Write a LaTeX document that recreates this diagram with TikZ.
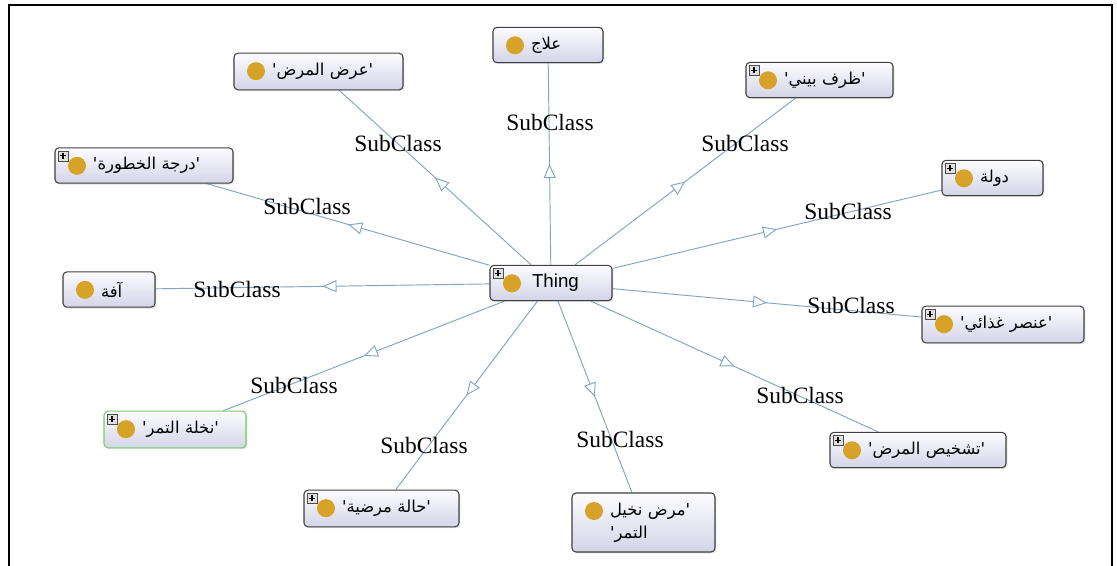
\documentclass[tikz,border=0pt]{standalone}
\usepackage{fontspec}
\setmainfont{Liberation Serif}
\newfontfamily\thingfont{Liberation Sans}
\newfontfamily\arabicfont[Script=Arabic]{DejaVu Sans}
\TeXXeTstate=1
\usetikzlibrary{arrows.meta,decorations.markings,backgrounds,shadows}

\definecolor{edgecol}{RGB}{130,165,195}
\definecolor{dotcol}{RGB}{214,162,40}
\definecolor{boxtop}{RGB}{252,252,255}
\definecolor{boxbot}{RGB}{212,212,232}
\definecolor{leafgreen}{RGB}{120,205,100}

% orange class dot and the small expand box
\newcommand\clsdot{\fill[dotcol] ([shift={(0.66cm,-0.54cm)}]path picture bounding box.north west) circle (0.27cm);}
\newcommand\clsplus{%
  \draw[black!70, fill=black!12, line width=0.4pt, sharp corners]
    ([shift={(0.09cm,-0.09cm)}]path picture bounding box.north west) rectangle ++(0.3cm,-0.3cm);
  \draw[black, line width=0.9pt, sharp corners]
    ([shift={(0.15cm,-0.24cm)}]path picture bounding box.north west) -- ++(0.18cm,0)
    ([shift={(0.24cm,-0.15cm)}]path picture bounding box.north west) -- ++(0,-0.18cm);}
\newcommand\rtl[1]{\mbox{\beginR #1\endR}}

\tikzset{
  cls/.style={draw=black!75, line width=0.9pt, rounded corners=0.12cm,
    top color=boxtop, bottom color=boxbot,
    minimum height=1.06cm, inner xsep=1.14cm, inner ysep=0.1cm, align=left,
    font=\arabicfont\fontsize{14}{20}\selectfont,
    drop shadow={opacity=0.25, shadow xshift=0.04cm, shadow yshift=-0.04cm},
    path picture={\clsdot}},
  clsp/.style={cls, path picture={\clsdot\clsplus}},
  lbl/.style={font=\fontsize{20}{24}\selectfont, inner sep=0pt},
  subedge/.style={draw=edgecol, line width=0.8pt, postaction={decorate},
    decoration={markings, mark=at position 0.5 with
      {\arrow{Triangle[length=0.42cm, width=0.36cm, fill=white]}}}}
}

\begin{document}
\begin{tikzpicture}[x=0.03cm, y=-0.03cm]
	\useasboundingbox (0,0) rectangle (1117,566);

	\node[clsp, text width=1.38cm, font=\thingfont\fontsize{16}{19}\selectfont] (thing) at (551,283) {\hspace*{0.12cm}Thing};

	\node[cls,  text width=1.02cm] (ilaj)     at (548,45)      {\rtl{علاج}};
	\node[cls,  text width=2.79cm, minimum height=1.1cm] (ard) at (318.5,71.5) {\rtl{'عرض المرض'}};
	\node[clsp, text width=2.13cm] (zarf)     at (819.5,80)    {\rtl{'ظرف بيني'}};
	\node[clsp, text width=3.06cm] (daraja)   at (144,165.5)   {\rtl{'درجة الخطورة'}};
	\node[clsp, text width=0.75cm] (dawla)    at (992.5,178)   {\rtl{دولة}};
	\node[cls,  text width=0.48cm] (afa)      at (109,289.5)   {\rtl{آفة}};
	\node[clsp, text width=2.58cm, minimum height=1.1cm] (unsur) at (1003,324.5) {\rtl{'عنصر غذائي'}};
	\node[clsp, text width=1.98cm, minimum height=1.1cm, draw=leafgreen] (nakhla) at (175,429.5) {\rtl{'نخلة التمر'}};
	\node[clsp, text width=3.0cm]  (tashkhis) at (918,450)     {\rtl{'تشخيص المرض'}};
	\node[clsp, text width=2.37cm, minimum height=1.1cm] (hala) at (381.5,508.5) {\rtl{'حالة مرضية'}};
	\node[cls,  text width=2.01cm, minimum height=1.77cm] (marad) at (643.5,522.5) {\rtl{'مرض نخيل}\\\rtl{التمر'}};

	\begin{scope}[on background layer]
		\fill[white] (0,0) rectangle (1117,566);
		\foreach \c in {ilaj,ard,zarf,daraja,dawla,afa,unsur,nakhla,tashkhis,hala,marad}
			\draw[subedge] (thing) -- (\c);
	\end{scope}

	\path
		(550,122) node[lbl] (lilaj) {SubClass}
		(398,143) node[lbl] (lard) {SubClass}
		(745,143) node[lbl] (lzarf) {SubClass}
		(307,206) node[lbl] (ldaraja) {SubClass}
		(848,211) node[lbl] (ldawla) {SubClass}
		(237,289) node[lbl] (lafa) {SubClass}
		(851,305) node[lbl] (lunsur) {SubClass}
		(294,385) node[lbl] (lnakhla) {SubClass}
		(800,395) node[lbl] (ltashkhis) {SubClass}
		(424,445) node[lbl] (lhala) {SubClass}
		(620,439) node[lbl] (lmarad) {SubClass}
	;

	% frame
	\draw[line width=2pt] (9,566) -- (9,5) -- (1112,5) -- (1112,566);
\end{tikzpicture}
\end{document}
